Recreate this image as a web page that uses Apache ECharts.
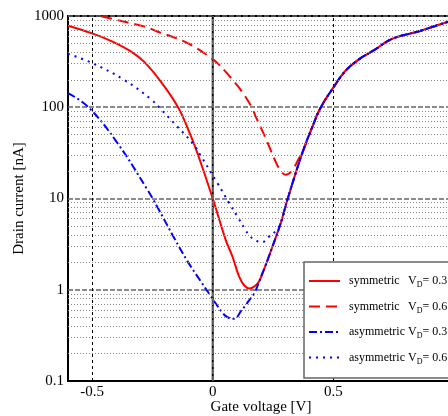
<!DOCTYPE html>
<html>
<head>
<meta charset="utf-8">
<script src="https://cdn.jsdelivr.net/npm/echarts@6/dist/echarts.min.js"></script>
<style>
html,body{margin:0;padding:0;background:#fff;overflow:hidden;width:448px;height:416px;}
#chart{width:470px;height:416px;}
</style>
</head>
<body>
<div id="chart"></div>
<script>
// Gate voltage [V] and drain current [nA] for each curve
var symV03_x = [-0.6, -0.5, -0.42, -0.34, -0.285, -0.216, -0.145, -0.09, -0.054, 0, 0.054, 0.082, 0.109, 0.13, 0.153, 0.175, 0.192, 0.22, 0.248, 0.282, 0.31, 0.372, 0.414, 0.448, 0.503, 0.548, 0.603, 0.672, 0.741, 0.852, 0.98, 1.0];
var symV03_y = [782, 645, 531, 410, 316, 192, 101, 48, 26.6, 10, 3.5, 2.3, 1.4, 1.12, 1.03, 1.1, 1.23, 1.88, 3.0, 5.4, 9.8, 32, 62, 100, 169, 247, 331, 427, 559, 677, 871, 890];

var symV06_x = [-0.6, -0.465, -0.37, -0.285, -0.23, -0.119, -0.036, 0.019, 0.05, 0.105, 0.16, 0.178, 0.216, 0.234, 0.257, 0.275, 0.303, 0.33, 0.358, 0.372, 0.414, 0.448, 0.503, 0.548, 0.603, 0.672, 0.741, 0.852, 0.98, 1.0];
var symV06_y = [1200, 1000, 870, 769, 677, 526, 393, 305, 250, 169, 102, 79, 48, 37, 26.6, 21.5, 18.2, 20.6, 27.7, 32, 62, 100, 169, 247, 331, 427, 559, 677, 871, 890];

var asymV03_x = [-0.6, -0.515, -0.395, -0.271, -0.23, -0.16, -0.105, -0.05, -0.008, 0.04, 0.061, 0.085, 0.1, 0.116, 0.133, 0.15, 0.171, 0.19, 0.205, 0.22, 0.248, 0.282, 0.31, 0.372, 0.414, 0.448, 0.503, 0.548, 0.603, 0.672, 0.741, 0.852, 0.98, 1.0];
var asymV03_y = [143, 100, 40.5, 12.5, 8.1, 3.7, 2.06, 1.24, 0.85, 0.56, 0.5, 0.48, 0.5, 0.58, 0.66, 0.76, 0.9, 1.18, 1.5, 1.88, 3.0, 5.4, 9.8, 32, 62, 100, 169, 247, 331, 427, 559, 677, 871, 890];

var asymV06_x = [-0.6, -0.5, -0.368, -0.257, -0.216, -0.147, -0.078, -0.05, 0.019, 0.068, 0.102, 0.134, 0.153, 0.178, 0.206, 0.231, 0.261, 0.282, 0.31, 0.372, 0.414, 0.448, 0.503, 0.548, 0.603, 0.672, 0.741, 0.852, 0.98, 1.0];
var asymV06_y = [386, 305, 200, 123, 95.5, 61.4, 38.8, 29.5, 14.8, 8.9, 6.36, 4.6, 3.9, 3.47, 3.33, 3.78, 4.4, 5.4, 9.8, 32, 62, 100, 169, 247, 331, 427, 559, 677, 871, 890];

var seriesKeys = ['s03', 's06', 'a03', 'a06'];
var seriesNames = ['symmetric', 'symmetric', 'asymmetric', 'asymmetric'];
var seriesVd = ['0.3', '0.6', '0.3', '0.6'];

var xTickLabels = [-0.5, 0, 0.5];
var yDecades = [0.1, 1, 10, 100, 1000];
var yMinorMultipliers = [2, 3, 4, 5, 6, 7, 8, 9];

function pairs(xs, ys) {
  return xs.map(function (x, i) { return [x, ys[i]]; });
}

var minorVals = [];
for (var d = 0; d < yDecades.length - 1; d++) {
  yMinorMultipliers.forEach(function (m) { minorVals.push(+(yDecades[d] * m).toPrecision(3)); });
}

var serif = 'Liberation Serif, "DejaVu Serif", serif';
var legendLabels = seriesNames.map(function (n, i) {
  return '{n|' + n + '}{v|V}{s|D}{v|= ' + seriesVd[i] + '}';
});

var chart = echarts.init(document.getElementById('chart'), null, {renderer: 'canvas'});

var markLineBase = {
  silent: true,
  symbol: ['none', 'none'],
  label: {show: false},
  emphasis: {disabled: true},
  animation: false
};

var option = {
  animation: false,
  backgroundColor: '#fff',
  grid: {
    left: 68, top: 16, width: 386, height: 365,
    outerBoundsMode: 'none', containLabel: false,
    show: true, borderColor: '#000', borderWidth: 2, backgroundColor: 'transparent'
  },
  graphic: [
    {
      type: 'rect', z: 20, silent: true,
      shape: {x: 304, y: 262, width: 200, height: 116},
      style: {fill: '#fff', stroke: '#666', lineWidth: 1.5}
    }
  ],
  xAxis: {
    type: 'value', min: -0.6, max: 1.0,
    name: 'Gate voltage [V]', nameLocation: 'middle', nameGap: 19, nameMoveOverlap: false,
    nameTextStyle: {fontFamily: serif, fontSize: 15, color: '#000'},
    axisLine: {show: true, lineStyle: {color: '#000', width: 2}},
    axisTick: {show: false},
    splitLine: {show: false},
    axisLabel: {
      customValues: xTickLabels, margin: 4, hideOverlap: false,
      fontFamily: serif, fontSize: 15, color: '#000',
      formatter: function (v) { return String(v); }
    }
  },
  yAxis: {
    type: 'log', logBase: 10, min: 0.1, max: 1000,
    name: 'Drain current [nA]', nameLocation: 'middle', nameGap: 41, nameMoveOverlap: false,
    nameTextStyle: {fontFamily: serif, fontSize: 15, color: '#000'},
    axisLine: {show: true, lineStyle: {color: '#000', width: 2}},
    axisTick: {show: false},
    axisLabel: {
      margin: 4, fontFamily: serif, fontSize: 15, color: '#000',
      formatter: function (v) { return String(+v.toPrecision(3)); }
    },
    splitLine: {show: true, lineStyle: {color: '#666', width: 1.5, type: [5, 2]}}
  },
  legend: {
    show: true, orient: 'vertical', left: 304, top: 262, z: 30,
    padding: [13, 4, 4, 4], itemWidth: 31, itemHeight: 14, itemGap: 11.5,
    backgroundColor: 'transparent', borderWidth: 0,
    itemStyle: {color: 'rgba(0,0,0,0)', borderColor: 'rgba(0,0,0,0)', borderWidth: 0},
    data: seriesKeys,
    formatter: function (name) {
      return legendLabels[seriesKeys.indexOf(name)];
    },
    textStyle: {
      fontFamily: serif, fontSize: 12, color: '#000',
      rich: {
        n: {fontFamily: serif, fontSize: 12, width: 59, padding: [0, 0, 0, 4], color: '#000', lineHeight: 16},
        v: {fontFamily: serif, fontSize: 12, color: '#000', lineHeight: 16},
        s: {fontFamily: serif, fontSize: 8, color: '#000', verticalAlign: 'bottom', lineHeight: 8}
      }
    }
  },
  series: [
    {
      name: 'grid', type: 'line', data: [], z: 1, silent: true,
      markLine: Object.assign({}, markLineBase, {
        data: minorVals.map(function (v) {
          return {yAxis: v, lineStyle: {color: '#888', width: 1, type: [1, 2]}};
        }).concat([
          {xAxis: -0.5, lineStyle: {color: '#000', width: 1, type: [3, 3]}},
          {xAxis: 0.5, lineStyle: {color: '#000', width: 1, type: [3, 3]}},
          {xAxis: 0, lineStyle: {color: '#777', width: 1.5, type: [5, 2]}}
        ])
      })
    },
    {
      name: 's03', type: 'line', data: pairs(symV03_x, symV03_y), showSymbol: false, symbol: 'none',
      smooth: 0.4, z: 2,
      lineStyle: {color: '#ff0000', width: 2}, itemStyle: {color: '#ff0000'}
    },
    {
      name: 's06', type: 'line', data: pairs(symV06_x, symV06_y), showSymbol: false, symbol: 'none',
      smooth: 0.4, z: 3,
      lineStyle: {color: '#ff0000', width: 2, type: [11, 6]}, itemStyle: {color: '#ff0000'}
    },
    {
      name: 'a03', type: 'line', data: pairs(asymV03_x, asymV03_y), showSymbol: false, symbol: 'none',
      smooth: 0.4, z: 4,
      lineStyle: {color: '#0000ff', width: 2, type: [8, 3, 2, 3]}, itemStyle: {color: '#0000ff'}
    },
    {
      name: 'a06', type: 'line', data: pairs(asymV06_x, asymV06_y), showSymbol: false, symbol: 'none',
      smooth: 0.4, z: 5,
      lineStyle: {color: '#0000ff', width: 2, type: [2, 5]}, itemStyle: {color: '#0000ff'}
    }
  ]
};
chart.setOption(option);
</script>
</body>
</html>
